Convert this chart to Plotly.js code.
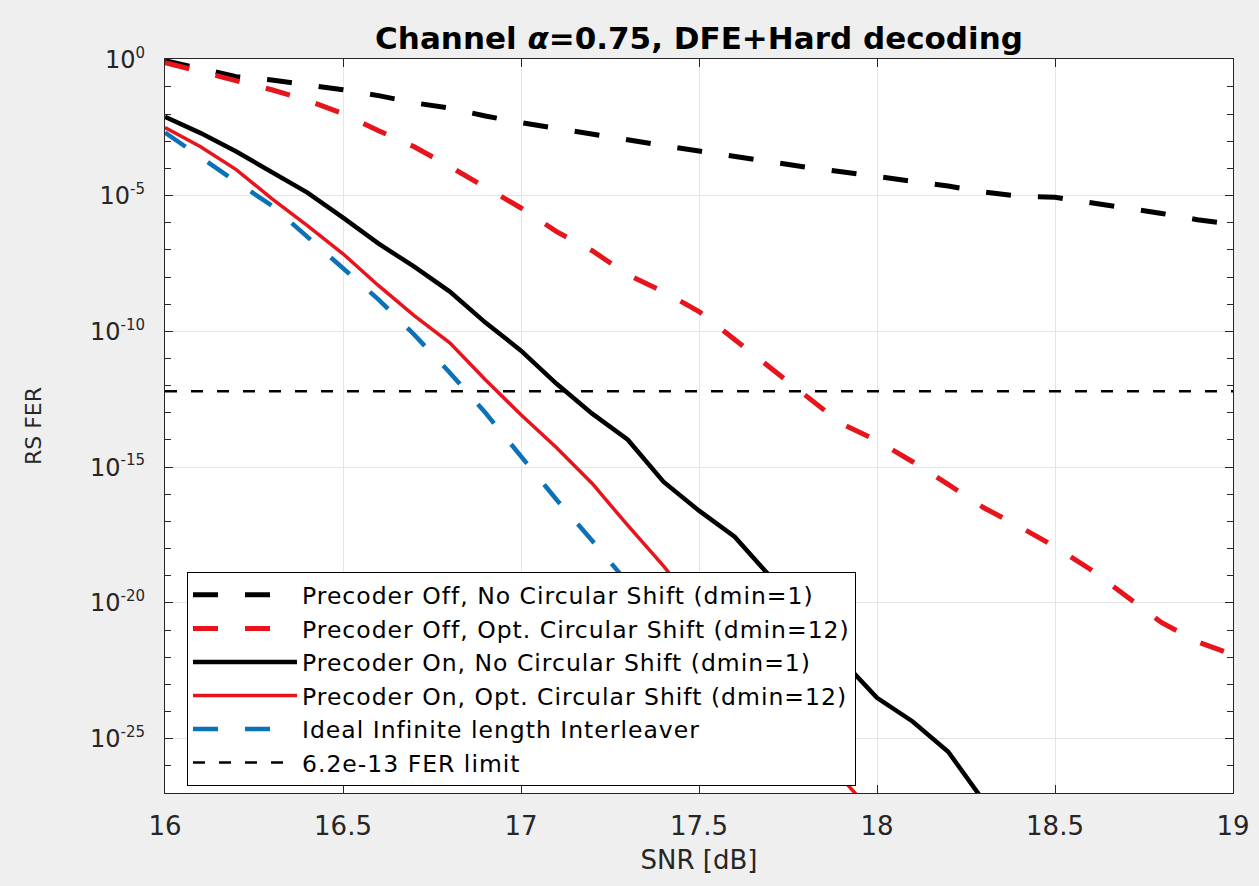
<!DOCTYPE html>
<html>
<head>
<meta charset="utf-8">
<script src="https://cdn.plot.ly/plotly-3.0.1.min.js"></script>
<style>html,body{margin:0;padding:0;background:#efefef;}#chart{width:1259px;height:886px;}</style>
</head>
<body>
<div id="chart"></div>
<script>
// SNR grid [dB]
const snr = [16.0,16.1,16.2,16.3,16.4,16.5,16.6,16.7,16.8,16.9,17.0,17.1,17.2,17.3,17.4,17.5,17.6,17.7,17.8,17.9,18.0,18.1,18.2,18.3,18.4,18.5,18.6,18.7,18.8,18.9,19.0];

// Precoder Off, No Circular Shift (dmin=1)
const offNoShift = [0.93,0.48,0.24,0.18,0.123,0.079,0.048,0.026,0.0166,8.5e-3,4.9e-3,2.95e-3,1.78e-3,1.05e-3,6.9e-4,4.4e-4,2.7e-4,1.78e-4,1.12e-4,7.6e-5,5.2e-5,3.5e-5,2.24e-5,1.35e-5,9.5e-6,8.7e-6,5.5e-6,3.6e-6,2.2e-6,1.29e-6,8.9e-7];

// Precoder Off, Opt. Circular Shift (dmin=12)
const offOptShift = [0.79,0.37,0.186,0.079,0.032,0.0105,2.45e-3,6.3e-4,1.17e-4,1.95e-5,3.5e-6,4.7e-7,9.3e-8,1.23e-8,2.9e-9,5.4e-10,5.0e-11,5.0e-12,4.7e-13,4.0e-14,9.5e-15,1.58e-15,2.3e-16,3.2e-17,6.5e-18,1.17e-18,1.7e-19,1.86e-20,1.86e-21,3.7e-22,1.23e-22];

// Precoder On, No Circular Shift (dmin=1)
const onNoShiftSnr = [16.0,16.1,16.2,16.3,16.4,16.5,16.6,16.7,16.8,16.9,17.0,17.1,17.2,17.3,17.4,17.5,17.6,17.7,17.8,17.9,18.0,18.1,18.2,18.3];
const onNoShift = [7.9e-3,2.0e-3,4.2e-4,7.6e-5,1.29e-5,1.55e-6,1.7e-7,2.4e-8,2.9e-9,2.1e-10,1.95e-11,1.17e-12,9.3e-14,1.02e-14,2.9e-16,2.5e-17,2.75e-18,9.3e-20,4.8e-21,8.1e-23,3.2e-24,4.3e-25,3.3e-26,5.0e-28];

// Precoder On, Opt. Circular Shift (dmin=12)
const onOptShiftSnr = [16.0,16.1,16.2,16.3,16.4,16.5,16.6,16.7,16.8,16.9,17.0,17.1,17.2,17.3,17.4,17.5,17.6,17.7,17.8,17.9,18.0];
const onOptShift = [3.2e-3,6.3e-4,9.1e-5,7.8e-6,7.8e-7,7.2e-8,4.8e-9,3.8e-10,3.8e-11,1.66e-12,8.5e-14,5.2e-15,2.5e-16,7.1e-18,2.3e-19,5.6e-21,1.58e-22,4.2e-24,1.17e-25,3.6e-27,1.26e-28];

// Ideal Infinite length Interleaver
const idealSnr = [16.0,16.1,16.2,16.3,16.4,16.5,16.6,16.7,16.8,16.9,17.0,17.1,17.2,17.3,17.4,17.5,17.6,17.7,17.8];
const ideal = [2.1e-3,2.5e-4,3.2e-5,4.3e-6,3.1e-7,2.2e-8,1.48e-9,7.6e-11,3.0e-12,1.0e-13,2.5e-15,6.3e-17,1.95e-18,5.5e-20,1.45e-21,4.1e-23,1.17e-24,3.3e-26,9.3e-28];

// FER limit
const ferLimit = 6.2e-13;

const legendNames = [
  'Precoder Off, No Circular Shift (dmin=1)',
  'Precoder Off, Opt. Circular Shift (dmin=12)',
  'Precoder On, No Circular Shift (dmin=1)',
  'Precoder On, Opt. Circular Shift (dmin=12)',
  'Ideal Infinite length Interleaver',
  '6.2e-13 FER limit'
];

const xTicks = [16,16.5,17,17.5,18,18.5,19];
const xTickText = ['16','16.5','17','17.5','18','18.5','19'];
const yTickExp = [0,-5,-10,-15,-20,-25];

const FONT = 'DejaVu Sans, Verdana, sans-serif';
const RED = '#e8141c', BLUE = '#0b72b8', BLACK = '#000000';
const bigDash = '25px,27px';
const wide = s => '<span style="letter-spacing:1px">' + s + '</span>';

const traces = [
  {x: snr, y: offNoShift, name: wide(legendNames[0]), mode:'lines', line:{color:BLACK, width:5, dash:bigDash}},
  {x: snr, y: offOptShift, name: wide(legendNames[1]), mode:'lines', line:{color:RED, width:5, dash:bigDash}},
  {x: onNoShiftSnr, y: onNoShift, name: wide(legendNames[2]), mode:'lines', line:{color:BLACK, width:4.5}},
  {x: onOptShiftSnr, y: onOptShift, name: wide(legendNames[3]), mode:'lines', line:{color:RED, width:3.5}},
  {x: idealSnr, y: ideal, name: wide(legendNames[4]), mode:'lines', line:{color:BLUE, width:4.5, dash:bigDash}},
  {x: [snr[0], snr[snr.length-1]], y: [ferLimit, ferLimit], name: wide(legendNames[5]), mode:'lines', line:{color:BLACK, width:2.5, dash:'12px,14px'}}
];
traces.forEach(t => { t.hoverinfo = 'skip'; });

const yTickVals = yTickExp.map(e => Math.pow(10, e));
const yTickText = yTickExp.map(e => '10<sup><span style="font-size:15px">' + e + '</span></sup>');
const minorVals = [];
for (let e = 0; e >= -27; e--) minorVals.push(Math.pow(10, e));

const layout = {
  width: 1259, height: 886,
  paper_bgcolor: '#efefef', plot_bgcolor: '#ffffff',
  margin: {l:165, r:26, t:59, b:93, pad:0},
  font: {family: FONT, color:'#262626', size:26},
  title: {text:'<b>Channel <i>α</i>=0.75, DFE+Hard decoding</b>', font:{family:FONT, size:31, color:'#000'}, x:0.5, xref:'paper', xanchor:'center', y:1-38/886, yref:'container', yanchor:'middle'},
  showlegend: true,
  legend: {x:0.0206, y:0.301, xanchor:'left', yanchor:'top', bgcolor:'#ffffff', bordercolor:'#000000', borderwidth:1,
           font:{family:FONT, size:23.5, color:'#000'}, itemwidth:104, traceorder:'normal'},
  xaxis: {range:[16,19], tickmode:'array', tickvals:xTicks, ticktext:xTickText, ticks:'inside', ticklen:8, tickcolor:'#262626',
          showline:true, linecolor:'#262626', linewidth:1.2, mirror:'ticks', showgrid:true, gridcolor:'#e4e4e4', zeroline:false,
          tickfont:{size:26, color:'#262626'}, ticklabelstandoff:10,
          title:{text:'SNR [dB]', font:{size:26, color:'#262626'}, standoff:10}},
  yaxis: {type:'log', range:[-27, 0.03], tickmode:'array', tickvals:yTickVals, ticktext:yTickText, ticks:'inside', ticklen:8, tickcolor:'#262626',
          showline:true, linecolor:'#262626', linewidth:1.2, mirror:'ticks', showgrid:true, gridcolor:'#e4e4e4', zeroline:false,
          tickfont:{size:24, color:'#262626'}, ticklabelstandoff:14,
          minor:{tickmode:'array', tickvals:minorVals, ticks:'inside', ticklen:6, tickcolor:'#262626', showgrid:false},
          title:{text:'RS FER', font:{size:22, color:'#262626'}, standoff:42}}
};

Plotly.newPlot('chart', traces, layout, {displayModeBar:false, staticPlot:true});
</script>
</body>
</html>
